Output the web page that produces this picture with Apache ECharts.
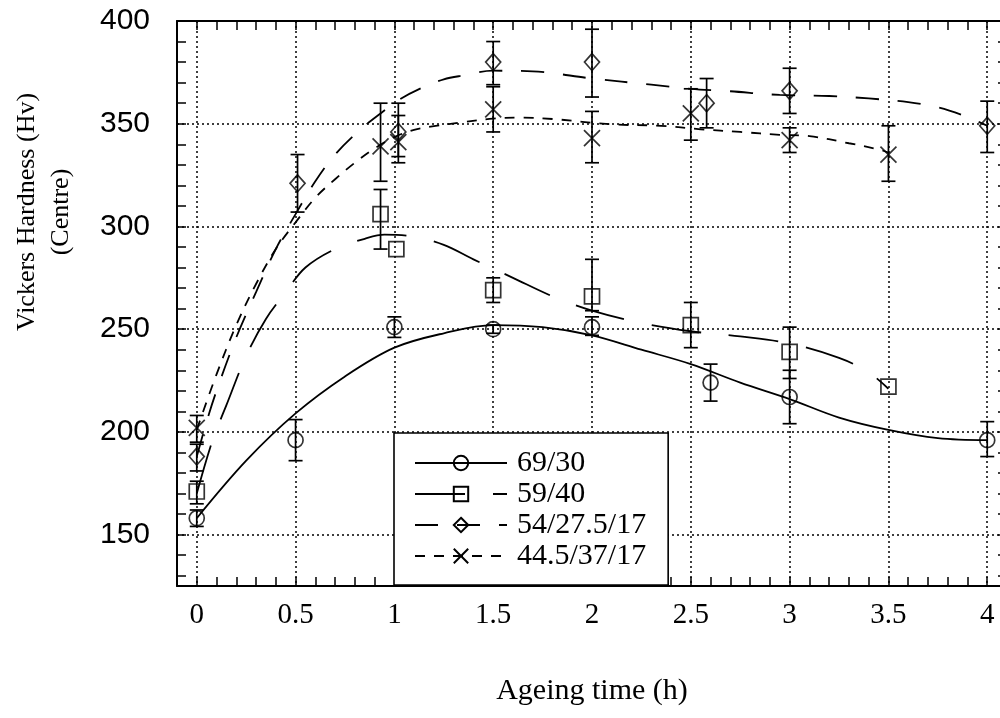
<!DOCTYPE html>
<html>
<head>
<meta charset="utf-8">
<script src="https://cdn.jsdelivr.net/npm/echarts@6/dist/echarts.min.js"></script>
<style>
html,body{margin:0;padding:0;background:#fff;}
#chart{width:1000px;height:718px;}
</style>
</head>
<body>
<div id="chart"></div>
<script>
// ---- tick labels ----
const xLabelValues = [0, 0.5, 1, 1.5, 2, 2.5, 3, 3.5, 4];
const yLabelValues = [150, 200, 250, 300, 350, 400];
const yGridValues = [150, 200, 250, 300, 350];

// ---- series names ----
const names = ['69/30', '59/40', '54/27.5/17', '44.5/37/17'];

// ---- 69/30 (circles) ----
const s1x  = [0, 0.5, 1, 1.5, 2, 2.6, 3, 4];
const s1y  = [158, 196, 251, 250, 251, 224, 217, 196];
const s1lo = [154, 186, 246, 248, 247, 215, 204, 188];
const s1hi = [162, 206, 256, 252, 256, 233, 230, 205];
const c1x = [0, 0.25, 0.5, 0.75, 1, 1.25, 1.5, 1.75, 2, 2.25, 2.5, 2.75, 3, 3.25, 3.5, 3.75, 4];
const c1y = [158, 186, 209, 227, 241, 248, 252, 251, 247, 240, 233, 224, 216, 207, 201, 197, 196];

// ---- 59/40 (squares) ----
const s2x  = [0, 0.93, 1.01, 1.5, 2, 2.5, 3, 3.5];
const s2y  = [171, 306, 289, 269, 266, 252, 239, 222];
const s2lo = [165, 289, 289, 263, 259, 241, 226, 222];
const s2hi = [176, 318, 289, 275, 284, 263, 251, 222];
const c2x = [0, 0.08, 0.15, 0.25, 0.35, 0.45, 0.55, 0.7, 0.85, 0.95, 1.1, 1.25, 1.4, 1.6, 1.8, 2, 2.25, 2.5, 2.75, 3, 3.25, 3.4, 3.5];
const c2y = [170, 196, 213, 237, 255, 268, 280, 289, 294, 296, 295, 291, 284, 275, 266, 259, 253, 249, 246.5, 243, 236, 229, 221];

// ---- 54/27.5/17 (diamonds) ----
const s3x  = [0, 0.51, 1.02, 1.5, 2, 2.58, 3, 4];
const s3y  = [188, 321, 346, 380, 380, 360, 366, 349];
const s3lo = [181, 307, 331, 369, 363, 348, 355, 336];
const s3hi = [194, 335, 360, 390, 396, 372, 377, 361];
const c3x = [0, 0.05, 0.1, 0.2, 0.3, 0.4, 0.5, 0.6, 0.7, 0.82, 0.93, 1.03, 1.14, 1.25, 1.35, 1.5, 1.7, 2.0, 2.3, 2.5, 2.7, 2.95, 3.2, 3.4, 3.6, 3.75, 3.88, 4];
const c3y = [188, 205, 220, 246, 268, 289, 306, 322, 335, 346.5, 355, 362, 367.5, 371.6, 373.5, 375.8, 375.5, 372, 369, 367, 365.8, 364, 363.5, 362.3, 360.5, 358, 354, 349];

// ---- 44.5/37/17 (crosses) ----
const s4x  = [0, 0.93, 1.02, 1.5, 2, 2.5, 3, 3.5];
const s4y  = [202, 339, 341, 357, 343, 355, 342, 335];
const s4lo = [195, 322, 334, 346, 331, 342, 336, 322];
const s4hi = [208, 360, 354, 368, 356, 367, 348, 349];
const c4x = [0, 0.1, 0.2, 0.3, 0.4, 0.5, 0.6, 0.7, 0.8, 0.9, 1.0, 1.1, 1.2, 1.35, 1.5, 1.65, 1.8, 2.1, 2.35, 2.55, 2.75, 2.95, 3.1, 3.3, 3.45, 3.5];
const c4y = [201, 228, 252, 272, 289, 302, 314, 323, 331, 338, 343.5, 347, 348.8, 350.8, 352.5, 353, 352.3, 349.7, 349, 347.3, 346, 344.6, 344, 340.5, 337.5, 336];

// minor tick positions
const xMinor = [];
for (let i = -1; i <= 41; i++) xMinor.push(Math.round(i) / 10);
const yMinor = [];
for (let v = 130; v <= 400; v += 10) yMinor.push(v);

const SERIF = '"Liberation Serif", "Times New Roman", serif';
const SANS = '"Liberation Sans", Arial, sans-serif';
const CROSS = 'path://M0,0L10,10M10,0L0,10';

const groups = [
  {name: names[0], sx: s1x, sy: s1y, lo: s1lo, hi: s1hi, cx: c1x, cy: c1y, symbol: 'circle', size: 15, dash: 'solid'},
  {name: names[1], sx: s2x, sy: s2y, lo: s2lo, hi: s2hi, cx: c2x, cy: c2y, symbol: 'rect', size: 15, dash: [50, 28]},
  {name: names[2], sx: s3x, sy: s3y, lo: s3lo, hi: s3hi, cx: c3x, cy: c3y, symbol: 'diamond', size: [15, 17], dash: [23, 19]},
  {name: names[3], sx: s4x, sy: s4y, lo: s4lo, hi: s4hi, cx: c4x, cy: c4y, symbol: CROSS, size: 16, dash: [10, 9]}
];

function renderErr(params, api) {
  const x = api.value(0), lo = api.value(1), hi = api.value(2);
  if (lo === hi) return null;
  const t = api.coord([x, hi]), b = api.coord([x, lo]);
  const w = 7;
  const style = {stroke: '#000', lineWidth: 1.7, fill: null};
  return {type: 'group', children: [
    {type: 'line', shape: {x1: t[0], y1: t[1], x2: b[0], y2: b[1]}, style: style},
    {type: 'line', shape: {x1: t[0] - w, y1: t[1], x2: t[0] + w, y2: t[1]}, style: style},
    {type: 'line', shape: {x1: b[0] - w, y1: b[1], x2: b[0] + w, y2: b[1]}, style: style}
  ]};
}

const markerStyle = {color: 'transparent', borderColor: '#000', borderWidth: 1.7};
const series = [];
groups.forEach(function (g) {
  series.push({
    name: g.name, type: 'line', smooth: 0.35,
    data: g.cx.map(function (x, i) { return [x, g.cy[i]]; }),
    symbol: g.symbol, symbolSize: g.size, showSymbol: false,
    lineStyle: {color: '#000', width: 1.8, type: g.dash},
    itemStyle: markerStyle,
    z: 3, silent: true
  });
});
groups.forEach(function (g, k) {
  series.push({
    name: 'err' + k, type: 'custom', renderItem: renderErr,
    data: g.sx.map(function (x, i) { return [x, g.lo[i], g.hi[i]]; }),
    encode: {x: 0, y: [1, 2]}, z: 4, silent: true
  });
  series.push({
    name: 'pts' + k, type: 'scatter',
    data: g.sx.map(function (x, i) { return [x, g.sy[i]]; }),
    symbol: g.symbol, symbolSize: g.size,
    itemStyle: markerStyle, z: 5, silent: true
  });
});

const axisLineStyle = {color: '#000', width: 2};
const tickStyle = {color: '#000', width: 1.5};
const gridLineStyle = {color: '#000', width: 1.5, type: [2, 3]};

const option = {
  animation: false,
  backgroundColor: '#fff',
  grid: {left: 177, right: -7, top: 21, bottom: 132, containLabel: false, outerBoundsMode: 'none'},
  xAxis: [
    {type: 'value', position: 'bottom', min: -0.1, max: 4.1,
     axisLine: {show: true, onZero: false, lineStyle: axisLineStyle},
     axisTick: {show: true, inside: true, length: 9, customValues: xMinor, lineStyle: tickStyle},
     axisLabel: {show: true, customValues: xLabelValues, margin: 15, color: '#000', fontFamily: SERIF, fontSize: 29},
     splitLine: {show: false},
     name: 'Ageing time (h)', nameLocation: 'middle', nameGap: 90,
     nameTextStyle: {color: '#000', fontFamily: SERIF, fontSize: 30}},
    {type: 'value', position: 'top', min: -0.1, max: 4.1,
     axisLine: {show: true, onZero: false, lineStyle: axisLineStyle},
     axisTick: {show: true, inside: true, length: 9, customValues: xMinor, lineStyle: tickStyle},
     axisLabel: {show: false}, splitLine: {show: false}},
    {type: 'value', position: 'bottom', min: -0.1, max: 4.1,
     axisLine: {show: false}, axisTick: {show: false, customValues: xLabelValues},
     axisLabel: {show: false},
     splitLine: {show: true, lineStyle: gridLineStyle}}
  ],
  yAxis: [
    {type: 'value', position: 'left', min: 125, max: 400,
     axisLine: {show: true, onZero: false, lineStyle: axisLineStyle},
     axisTick: {show: true, inside: true, length: 9, customValues: yMinor, lineStyle: tickStyle},
     axisLabel: {show: true, customValues: yLabelValues, margin: 27, color: '#000', fontFamily: SANS, fontSize: 30},
     splitLine: {show: false}},
    {type: 'value', position: 'right', min: 125, max: 400,
     axisLine: {show: true, onZero: false, lineStyle: axisLineStyle},
     axisTick: {show: true, inside: true, length: 9, customValues: yMinor, lineStyle: tickStyle},
     axisLabel: {show: false}, splitLine: {show: false}},
    {type: 'value', position: 'left', min: 125, max: 400,
     axisLine: {show: false}, axisTick: {show: false, customValues: yGridValues},
     axisLabel: {show: false},
     splitLine: {show: true, lineStyle: gridLineStyle}}
  ],
  legend: {
    data: names, orient: 'vertical', left: 394, top: 433,
    itemWidth: 92, itemHeight: 18, itemGap: 1,
    padding: [15, 22, 14, 20],
    backgroundColor: '#fff', borderColor: '#000', borderWidth: 1.6, borderRadius: 0,
    selectedMode: false,
    textStyle: {color: '#000', fontFamily: SERIF, fontSize: 30, padding: [0, 0, 0, 5]}
  },
  graphic: [{
    type: 'text', x: 44, y: 212, rotation: Math.PI / 2, silent: true,
    style: {
      text: 'Vickers Hardness (Hv)\n(Centre)',
      font: '26px "Liberation Serif", serif', fill: '#000',
      align: 'center', verticalAlign: 'middle',
      textAlign: 'center', textVerticalAlign: 'middle', lineHeight: 34
    }
  }],
  series: series
};

const chart = echarts.init(document.getElementById('chart'), null, {renderer: 'canvas'});
chart.setOption(option);
</script>
</body>
</html>
